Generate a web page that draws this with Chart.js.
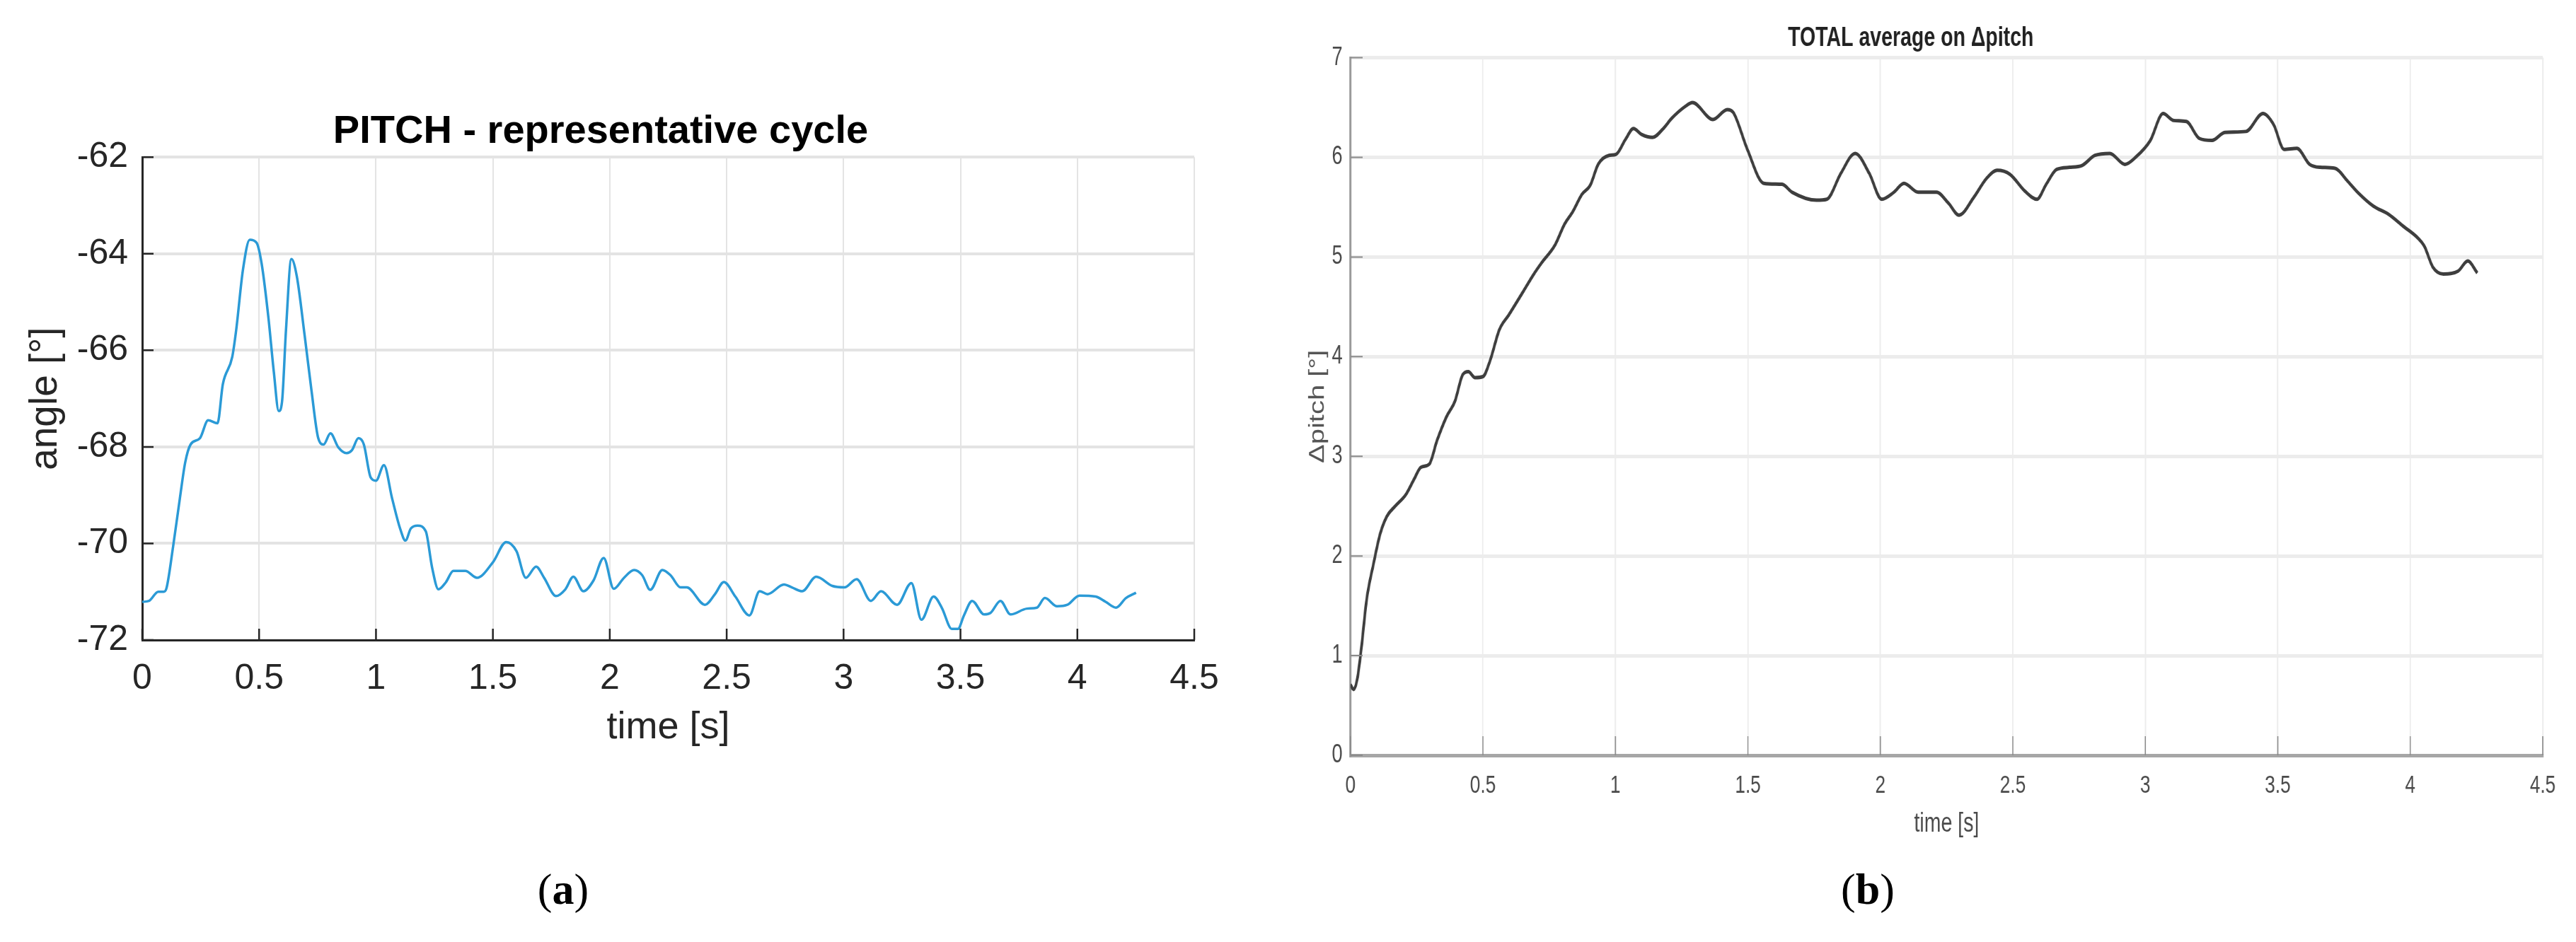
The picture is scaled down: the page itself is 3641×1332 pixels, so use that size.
<!DOCTYPE html>
<html>
<head>
<meta charset="utf-8">
<script src="https://cdn.jsdelivr.net/npm/chart.js@4.4.1/dist/chart.umd.min.js"></script>
<style>
  html, body { margin: 0; padding: 0; background: #fff; }
  body { width: 3641px; height: 1332px; position: relative; overflow: hidden; }
  #pitchChart { position: absolute; left: 0; top: 0; }
  /* la figura (b) del original está comprimida en horizontal */
  #deltaChart { position: absolute; left: 1800px; top: 0; transform: scaleX(0.75); transform-origin: 0 0; }
  .caption {
    position: absolute; top: 1222px; width: 200px; text-align: center;
    font-family: 'Liberation Serif', 'Times New Roman', serif;
    font-size: 62px; line-height: 70px; color: #000;
  }
</style>
</head>
<body>
<canvas id="pitchChart" width="1760" height="1080"></canvas>
<canvas id="deltaChart" width="2455" height="1200"></canvas>
<div class="caption" style="left:696px">(<b>a</b>)</div>
<div class="caption" style="left:2540px">(<b>b</b>)</div>
<script>
// --- DATOS (a): PITCH - representative cycle ---
const timeA = [
  0, 0.029, 0.069, 0.092, 0.103, 0.132, 0.161, 0.184, 0.207, 0.247,
  0.282, 0.322, 0.345, 0.385, 0.402, 0.431, 0.460, 0.489, 0.511, 0.540,
  0.563, 0.584, 0.598, 0.615, 0.638, 0.661, 0.695, 0.724, 0.753, 0.776,
  0.805, 0.839, 0.874, 0.897, 0.925, 0.948, 0.977, 1.000, 1.034, 1.069,
  1.103, 1.126, 1.149, 1.178, 1.213, 1.240, 1.267, 1.298, 1.331, 1.382,
  1.432, 1.500, 1.557, 1.601, 1.641, 1.685, 1.719, 1.770, 1.810, 1.844,
  1.887, 1.930, 1.974, 2.017, 2.061, 2.104, 2.139, 2.173, 2.225, 2.260,
  2.303, 2.329, 2.407, 2.450, 2.488, 2.537, 2.597, 2.641, 2.675, 2.745,
  2.779, 2.823, 2.883, 2.952, 3.004, 3.056, 3.117, 3.160, 3.229, 3.290,
  3.333, 3.385, 3.420, 3.463, 3.489, 3.515, 3.550, 3.601, 3.628, 3.671,
  3.714, 3.784, 3.827, 3.861, 3.913, 3.957, 4.009, 4.078, 4.121, 4.165,
  4.208, 4.251
];
const pitchA = [
  -71.21, -71.19, -71.00, -71.00, -70.94, -70.07, -69.07, -68.32, -67.95, -67.82,
  -67.45, -67.51, -66.70, -66.14, -65.58, -64.33, -63.71, -63.77, -64.21, -65.33,
  -66.45, -67.26, -67.07, -65.58, -64.11, -64.46, -65.70, -66.83, -67.82, -67.95,
  -67.72, -68.01, -68.13, -68.07, -67.82, -67.95, -68.63, -68.70, -68.38, -69.07,
  -69.69, -69.94, -69.69, -69.63, -69.75, -70.50, -70.95, -70.81, -70.57, -70.57,
  -70.71, -70.39, -69.97, -70.16, -70.71, -70.48, -70.71, -71.09, -70.95, -70.69,
  -70.99, -70.77, -70.30, -70.94, -70.71, -70.55, -70.66, -70.96, -70.55, -70.66,
  -70.91, -70.91, -71.27, -71.05, -70.80, -71.10, -71.49, -70.99, -71.05, -70.85,
  -70.91, -70.99, -70.69, -70.88, -70.91, -70.74, -71.19, -70.99, -71.27, -70.82,
  -71.58, -71.10, -71.33, -71.77, -71.77, -71.49, -71.19, -71.47, -71.44, -71.19,
  -71.47, -71.35, -71.33, -71.13, -71.30, -71.27, -71.08, -71.10, -71.21, -71.33,
  -71.13, -71.02
];

// --- DATOS (b): TOTAL average on Δpitch ---
const timeB = [
  0, 0.012, 0.026, 0.041, 0.061, 0.087, 0.112, 0.138, 0.169, 0.210,
  0.240, 0.266, 0.297, 0.327, 0.363, 0.394, 0.424, 0.445, 0.470, 0.500,
  0.527, 0.562, 0.598, 0.649, 0.690, 0.721, 0.772, 0.808, 0.838, 0.874,
  0.905, 0.935, 0.976, 1.002, 1.038, 1.068, 1.099, 1.140, 1.181, 1.212,
  1.263, 1.291, 1.368, 1.422, 1.445, 1.498, 1.560, 1.629, 1.667, 1.759,
  1.798, 1.851, 1.905, 1.958, 2.005, 2.051, 2.089, 2.143, 2.212, 2.257,
  2.297, 2.353, 2.401, 2.441, 2.489, 2.546, 2.591, 2.626, 2.666, 2.714,
  2.762, 2.810, 2.866, 2.923, 2.963, 3.019, 3.067, 3.107, 3.155, 3.204,
  3.252, 3.300, 3.380, 3.444, 3.484, 3.524, 3.572, 3.620, 3.660, 3.716,
  3.764, 3.805, 3.861, 3.917, 3.973, 4.029, 4.053, 4.085, 4.125, 4.181,
  4.217, 4.253
];
const deltaB = [
  0.71, 0.66, 0.77, 1.07, 1.56, 1.92, 2.22, 2.40, 2.50, 2.62,
  2.77, 2.89, 2.92, 3.16, 3.40, 3.55, 3.82, 3.85, 3.79, 3.80,
  3.96, 4.27, 4.42, 4.64, 4.82, 4.94, 5.12, 5.33, 5.45, 5.63,
  5.72, 5.93, 6.02, 6.03, 6.18, 6.29, 6.23, 6.20, 6.29, 6.39,
  6.51, 6.55, 6.38, 6.48, 6.45, 6.08, 5.74, 5.73, 5.65, 5.57,
  5.58, 5.84, 6.04, 5.84, 5.58, 5.65, 5.74, 5.65, 5.65, 5.54,
  5.42, 5.60, 5.79, 5.87, 5.83, 5.66, 5.58, 5.73, 5.88, 5.90,
  5.92, 6.02, 6.04, 5.93, 6.00, 6.17, 6.44, 6.37, 6.36, 6.19,
  6.17, 6.25, 6.26, 6.44, 6.33, 6.08, 6.09, 5.93, 5.90, 5.89,
  5.76, 5.64, 5.51, 5.43, 5.31, 5.19, 5.11, 4.90, 4.83, 4.86,
  4.96, 4.84
];

// ejes
const timeRange = [0, 4.5];
const timeStep = 0.5;
const pitchRange = [-72, -62];
const pitchStep = 2;
const deltaRange = [0, 7];
const deltaStep = 1;

const SANS = "'Liberation Sans', Arial, Helvetica, sans-serif";

function toPoints(xs, ys) {
  const n = Math.min(xs.length, ys.length);
  const pts = [];
  for (let i = 0; i < n; i++) pts.push({ x: xs[i], y: ys[i] });
  return pts;
}

// etiquetas tipo MATLAB: 1 en vez de 1.0
const plainLabel = v => String(v);

// marcas de eje hacia dentro (estilo MATLAB)
const innerTicks = {
  id: 'innerTicks',
  afterDatasetsDraw(chart, args, opts) {
    const { ctx, chartArea, scales } = chart;
    ctx.save();
    ctx.strokeStyle = opts.color;
    ctx.lineWidth = opts.width;
    ctx.beginPath();
    scales.x.ticks.forEach(t => {
      const px = scales.x.getPixelForValue(t.value);
      ctx.moveTo(px, chartArea.bottom);
      ctx.lineTo(px, chartArea.bottom - opts.xLen);
    });
    scales.y.ticks.forEach(t => {
      const py = scales.y.getPixelForValue(t.value);
      ctx.moveTo(chartArea.left, py);
      ctx.lineTo(chartArea.left + opts.yLen, py);
    });
    ctx.stroke();
    ctx.restore();
  }
};

// --- GRÁFICO (a) ---
new Chart(document.getElementById('pitchChart').getContext('2d'), {
  type: 'line',
  data: {
    datasets: [{
      data: toPoints(timeA, pitchA),
      borderColor: '#2b9ad6',
      borderWidth: 3.5,
      pointRadius: 0,
      cubicInterpolationMode: 'monotone',
      fill: false
    }]
  },
  plugins: [innerTicks],
  options: {
    responsive: false,
    animation: false,
    layout: { padding: { left: 10, right: 72, top: 20, bottom: 18 } },
    plugins: {
      legend: { display: false },
      tooltip: { enabled: false },
      title: {
        display: true,
        text: 'PITCH - representative cycle',
        color: '#000',
        font: { family: SANS, size: 56, weight: 'bold' },
        padding: { top: 133, bottom: 2 }
      },
      innerTicks: { color: '#262626', width: 2.5, xLen: 16, yLen: 16 }
    },
    scales: {
      x: {
        type: 'linear',
        min: timeRange[0], max: timeRange[1],
        afterFit: s => { s.height = 157; },
        ticks: { stepSize: timeStep, callback: plainLabel, color: '#262626', padding: 25, font: { family: SANS, size: 50 } },
        grid: { color: '#e4e4e4', lineWidth: 2, drawTicks: false },
        border: { display: true, color: '#262626', width: 3 },
        title: { display: true, text: 'time [s]', color: '#262626', font: { family: SANS, size: 54 }, padding: 0 }
      },
      y: {
        min: pitchRange[0], max: pitchRange[1],
        afterFit: s => { s.width = 191; },
        ticks: { stepSize: pitchStep, callback: plainLabel, color: '#262626', padding: 20, font: { family: SANS, size: 50 } },
        grid: { color: '#e3e3e3', lineWidth: 4, drawTicks: false },
        border: { display: true, color: '#262626', width: 3 },
        title: { display: true, text: 'angle [°]', color: '#262626', font: { family: SANS, size: 55 }, padding: { top: 22, bottom: 0 } }
      }
    }
  }
});

// --- GRÁFICO (b) --- (coordenadas de lienzo antes de la compresión 0.75)
new Chart(document.getElementById('deltaChart').getContext('2d'), {
  type: 'line',
  data: {
    datasets: [{
      data: toPoints(timeB, deltaB),
      borderColor: '#3e3e3e',
      borderWidth: 5,
      pointRadius: 0,
      cubicInterpolationMode: 'monotone',
      fill: false
    }]
  },
  plugins: [innerTicks],
  options: {
    responsive: false,
    animation: false,
    layout: { padding: { left: 10, right: 63, top: 10, bottom: 12 } },
    plugins: {
      legend: { display: false },
      tooltip: { enabled: false },
      title: {
        display: true,
        text: 'TOTAL average on Δpitch',
        color: '#222',
        font: { family: SANS, size: 38, weight: 'bold' },
        padding: { top: 22, bottom: 4 }
      },
      innerTicks: { color: '#8a8a8a', width: 2, xLen: 27, yLen: 23 }
    },
    scales: {
      x: {
        type: 'linear',
        min: timeRange[0], max: timeRange[1],
        afterFit: s => { s.height = 120; },
        ticks: { stepSize: timeStep, callback: plainLabel, color: '#4a4a4a', padding: 22, font: { family: SANS, size: 35 } },
        grid: { color: '#ececec', lineWidth: 2.5, drawTicks: false },
        border: { display: true, color: '#a6a6a6', width: 5 },
        title: { display: true, text: 'time [s]', color: '#4a4a4a', font: { family: SANS, size: 38 }, padding: 0 }
      },
      y: {
        min: deltaRange[0], max: deltaRange[1],
        afterFit: s => { s.width = 135; },
        ticks: { stepSize: deltaStep, callback: plainLabel, color: '#4a4a4a', padding: 15, font: { family: SANS, size: 36 } },
        grid: { color: '#ececec', lineWidth: 5, drawTicks: false },
        border: { display: true, color: '#9a9a9a', width: 4 },
        title: { display: true, text: 'Δpitch [°]', color: '#555', font: { family: SANS, size: 40 }, padding: { top: 50, bottom: 0 } }
      }
    }
  }
});
</script>
</body>
</html>
